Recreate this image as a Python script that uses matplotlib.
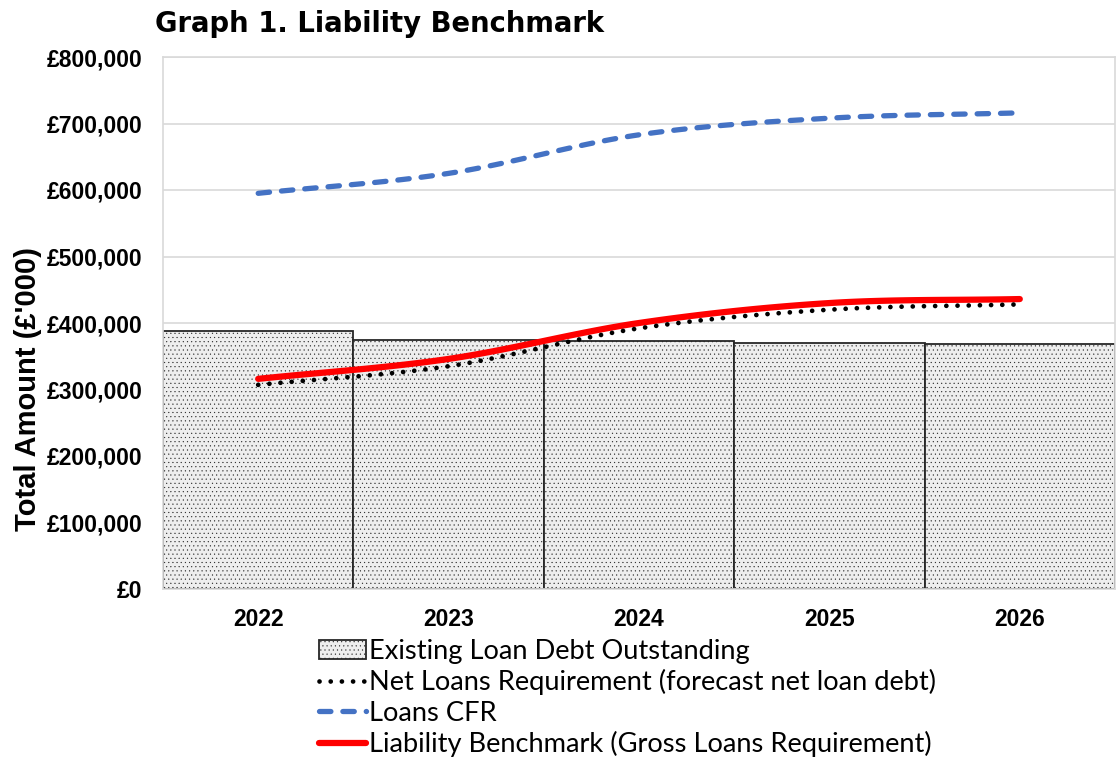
import numpy as np
import matplotlib
matplotlib.use("Agg")
from matplotlib import pyplot as plt
from matplotlib.ticker import FuncFormatter

years = ["2022", "2023", "2024", "2025", "2026"]
existing_debt = [388000, 374000, 373000, 370000, 368000]
net_loans_req = [307000, 335000, 392000, 420000, 428000]
loans_cfr = [595000, 625000, 683000, 708000, 716000]
liability_bm = [316000, 346000, 400000, 430000, 436000]


def smooth(x, y, n=30):
    "Catmull-Rom curve through the points, like Excel smoothed lines"
    x = np.asarray(x, float)
    y = np.asarray(y, float)
    px = np.concatenate([[2 * x[0] - x[1]], x, [2 * x[-1] - x[-2]]])
    py = np.concatenate([[2 * y[0] - y[1]], y, [2 * y[-1] - y[-2]]])
    xs, ys = [], []
    t = np.linspace(0, 1, n)
    for i in range(1, len(px) - 2):
        for p, out in ((px, xs), (py, ys)):
            p0, p1, p2, p3 = p[i - 1], p[i], p[i + 1], p[i + 2]
            out.append(0.5 * (2 * p1 + (-p0 + p2) * t
                              + (2 * p0 - 5 * p1 + 4 * p2 - p3) * t ** 2
                              + (-p0 + 3 * p1 - 3 * p2 + p3) * t ** 3))
    return np.concatenate(xs), np.concatenate(ys)


plt.rcParams["hatch.color"] = "#d4d4d4"
plt.rcParams["hatch.linewidth"] = 0.3

fig = plt.figure(figsize=(11.18, 7.58), dpi=100)
ax = fig.add_axes([163 / 1118, 1 - 589 / 758, 952 / 1118, 532 / 758])

x = np.arange(len(years))
bars = ax.bar(x, existing_debt, width=1.0, color="#eeeeee", edgecolor="#262626",
              lw=1.3, hatch="....", label="Existing Loan Debt Outstanding", zorder=2)

sx, sy = smooth(x, net_loans_req)
l_net, = ax.plot(sx, sy, color="black", lw=3.4, ls=(0, (0.01, 2.36)),
                 dash_capstyle="round",
                 label="Net Loans Requirement (forecast net loan debt)", zorder=4)
sx, sy = smooth(x, loans_cfr)
l_cfr, = ax.plot(sx, sy, color="#4472c4", lw=3.8, ls=(0, (2.16, 2.27)),
                 dash_capstyle="round", label="Loans CFR", zorder=4)
sx, sy = smooth(x, liability_bm)
l_lb, = ax.plot(sx, sy, color="#ff0000", lw=4.5, solid_capstyle="round",
                label="Liability Benchmark (Gross Loans Requirement)", zorder=3)

ax.set_xlim(-0.5, len(years) - 0.5)
ax.set_ylim(0, 800000)
ax.set_yticks(np.arange(0, 800001, 100000))
ax.yaxis.set_major_formatter(FuncFormatter(lambda v, p: f"£{v:,.0f}"))
ax.set_xticks(x)
ax.set_xticklabels(years)
ax.tick_params(length=0, labelsize=16.5)
ax.tick_params(axis="y", pad=15)
ax.tick_params(axis="x", pad=14)
for lab in ax.get_xticklabels() + ax.get_yticklabels():
    lab.set_fontfamily("Liberation Sans")
    lab.set_fontweight("bold")

ax.grid(axis="y", color="#d9d9d9", lw=1.2, zorder=0)
ax.set_axisbelow(True)
for s in ax.spines.values():
    s.set_color("#d9d9d9")
    s.set_linewidth(1.2)

ax.set_ylabel("Total Amount (£'000)", fontsize=21, fontweight="bold",
              fontfamily="Liberation Sans")
ax.yaxis.set_label_coords(-0.127, 0.376)

fig.text(155 / 1118, 1 - 24 / 758, "Graph 1. Liability Benchmark", fontsize=19.8,
         fontweight="bold", fontfamily="DejaVu Sans", va="center", ha="left")

leg = ax.legend([bars, l_net, l_cfr, l_lb],
                [bars.get_label(), l_net.get_label(), l_cfr.get_label(), l_lb.get_label()],
                loc="upper left", bbox_to_anchor=(0.152, -0.073), frameon=False,
                prop={"family": "Lato", "size": 19.6}, handlelength=1.75,
                handletextpad=0.12, labelspacing=0.2, borderaxespad=0)

fig.savefig("out.png", dpi=100)
